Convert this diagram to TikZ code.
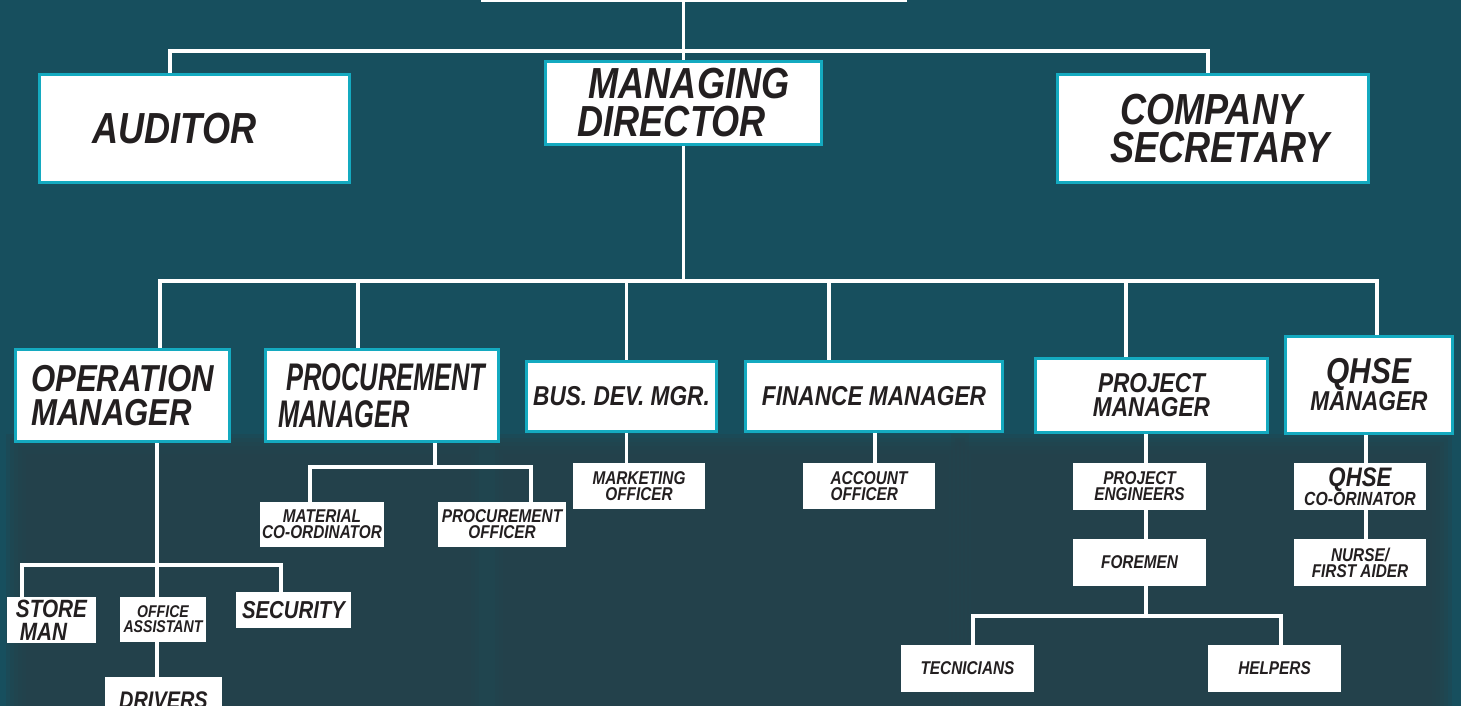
\documentclass[tikz,border=0pt]{standalone}
\usepackage{fontspec}
\newfontfamily\orgfont{Liberation Sans}[FakeStretch=0.83]
\newfontfamily\orgnarrow{Liberation Sans}[FakeStretch=0.66]
\definecolor{bgteal}{RGB}{23,79,94}
\definecolor{shadeteal}{RGB}{38,65,74}
\definecolor{rimcyan}{RGB}{20,170,192}
\definecolor{inkblack}{RGB}{35,31,32}
\pgfdeclarelayer{back}
\pgfdeclarelayer{links}
\pgfsetlayers{back,links,main}

\tikzset{
  mgr/.style={draw=rimcyan, line width=3pt, fill=white, text=inkblack, inner sep=0pt},
  staff/.style={fill=white, text=inkblack, inner sep=0pt, align=center},
  link/.style={draw=white, line width=3.3pt},
  fbig/.style={font=\orgfont\bfseries\itshape\fontsize{43.5}{38}\selectfont},
  fops/.style={font=\orgfont\bfseries\itshape\fontsize{37.5}{34}\selectfont},
  fproc/.style={font=\orgnarrow\bfseries\itshape\fontsize{38.5}{37}\selectfont},
  fmid/.style={font=\orgfont\bfseries\itshape\fontsize{27.3}{24}\selectfont},
  fsub/.style={font=\orgfont\bfseries\itshape\fontsize{25}{23}\selectfont},
  fsmall/.style={font=\orgfont\bfseries\itshape\fontsize{18.5}{16}\selectfont},
}

\begin{document}
\begin{tikzpicture}[x=1pt, y=-1pt]
\useasboundingbox (0,0) rectangle (1461,706);

% background and the darker bands
\begin{pgfonlayer}{back}
\fill[bgteal] (0,0) rectangle (1461,706);
\foreach \xa/\xb in {6/491, 483/969, 951/1452}
  \foreach \k in {0,...,5}
    \fill[shadeteal, opacity=0.32] (\xa+4*\k, 434+4*\k) rectangle (\xb-4*\k, 740);
\end{pgfonlayer}

% top rows
\node[staff, minimum width=426pt, minimum height=80pt] (chair) at (694,-38) {};
\node[mgr, fbig, align=left, minimum width=310pt, minimum height=108pt] (aud) at (194.5,128.5) {AUDITOR\hspace*{40pt}};
\node[mgr, fbig, align=left, minimum width=276pt, minimum height=83pt] (md) at (683.5,103) {\hspace*{11pt}MANAGING\\DIRECTOR};
\node[mgr, fbig, align=left, minimum width=311pt, minimum height=108pt] (sec) at (1213,128.5) {\hspace*{24pt}COMPANY\\\hspace*{14pt}SECRETARY};

% managers
\node[mgr, fops, align=left, minimum width=214pt, minimum height=92pt] (ops) at (122.5,395.5) {OPERATION\\MANAGER};
\node[mgr, fproc, align=left, minimum width=233pt, minimum height=92pt] (proc) at (382,395.5) {\hspace*{8pt}PROCUREMENT\\MANAGER};
\node[mgr, fmid, minimum width=190pt, minimum height=70pt] (bdm) at (621.5,396.5) {BUS. DEV. MGR.};
\node[mgr, fmid, minimum width=257pt, minimum height=70pt] (fin) at (874,396.5) {FINANCE MANAGER};
\node[mgr, fmid, align=center, minimum width=232pt, minimum height=74pt] (pm) at (1151.5,395.5) {PROJECT\\MANAGER};
\node[mgr, fmid, align=center, minimum width=167pt, minimum height=97pt] (qm) at (1369,384.5) {{\fontsize{36}{30}\selectfont QHSE}\\MANAGER};

% staff
\node[staff, fsmall, minimum width=124pt, minimum height=45pt] (mat) at (322,524.5) {MATERIAL\\CO-ORDINATOR};
\node[staff, fsmall, minimum width=128pt, minimum height=45pt] (po) at (502,524.5) {PROCUREMENT\\OFFICER};
\node[staff, fsmall, minimum width=132pt, minimum height=46pt] (mkt) at (639,486) {MARKETING\\OFFICER};
\node[staff, fsmall, align=left, minimum width=132pt, minimum height=46pt] (acc) at (869,486) {ACCOUNT\\OFFICER};
\node[staff, fsub, align=left, minimum width=89pt, minimum height=46pt] (store) at (51.5,620) {STORE\\\hspace*{4pt}MAN};
\node[staff, font=\orgfont\bfseries\itshape\fontsize{17}{15}\selectfont, minimum width=86pt, minimum height=45pt] (oa) at (163,619.5) {OFFICE\\ASSISTANT};
\node[staff, font=\orgfont\bfseries\itshape\fontsize{24.5}{23}\selectfont, minimum width=115pt, minimum height=36pt] (secu) at (293.5,610) {SECURITY};
\node[staff, font=\orgfont\bfseries\itshape\fontsize{24}{23}\selectfont, minimum width=117pt, minimum height=46pt] (drv) at (163.5,700) {DRIVERS};
\node[staff, fsmall, minimum width=133pt, minimum height=47pt] (pe) at (1139.5,486.5) {PROJECT\\ENGINEERS};
\node[staff, fsmall, minimum width=133pt, minimum height=47pt] (fore) at (1139.5,562.5) {FOREMEN};
\node[staff, fsmall, minimum width=133pt, minimum height=47pt] (tec) at (967.5,668.5) {TECNICIANS};
\node[staff, fsmall, minimum width=133pt, minimum height=47pt] (help) at (1274.5,668.5) {HELPERS};
\node[staff, fsmall, minimum width=132pt, minimum height=47pt] (qc) at (1360,486.5) {{\fontsize{26.8}{22}\selectfont QHSE}\\{\fontsize{19}{16}\selectfont CO-ORINATOR}};
\node[staff, fsmall, minimum width=132pt, minimum height=47pt] (nurse) at (1360,562.5) {NURSE/\\FIRST AIDER};

% connectors
\coordinate (topbus) at (683.5,51);
\coordinate (midbus) at (683.5,281);
\coordinate (opsbus) at (157,565);
\coordinate (procbus) at (435,467);
\coordinate (bdmcol) at (626.5,0);
\coordinate (pmcol) at (1146,616);
\coordinate (qcol) at (1366,0);
\begin{pgfonlayer}{links}
\draw[link] (chair.south -| md.north) -- (md.north);
\draw[link] ([xshift=-24.5pt]aud.north) |- (topbus) -| ([xshift=-5pt]sec.north);
\draw[link] (md.south) -- (midbus);
\draw[link] ([xshift=37.5pt]ops.north) |- (midbus) -| ([xshift=8pt]qm.north);
\foreach \n/\dx in {proc/-24, bdm/5, fin/-45, pm/-25.5}
  \draw[link] ([xshift=\dx pt]\n.north) -- ([xshift=\dx pt]\n.north |- midbus);
% operation
\draw[link] (ops.south -| opsbus) -- (oa.north -| opsbus);
\draw[link] ([xshift=-29.5pt]store.north) |- (opsbus) -| ([xshift=-12.5pt]secu.north);
\draw[link] (oa.south -| opsbus) -- (drv.north -| opsbus);
% procurement
\draw[link] (proc.south -| procbus) -- (procbus);
\draw[link] ([xshift=-12pt]mat.north) |- (procbus) -| ([xshift=29pt]po.north);
\draw[link] (bdm.south -| bdmcol) -- (mkt.north -| bdmcol);
\draw[link] ([xshift=1pt]fin.south) -- ([xshift=1pt]fin.south |- acc.north);
% project
\draw[link] (pm.south -| pmcol) -- (pe.north -| pmcol);
\draw[link] (pe.south -| pmcol) -- (fore.north -| pmcol);
\draw[link] (fore.south -| pmcol) -- (pmcol);
\draw[link] ([xshift=5.5pt]tec.north) |- (pmcol) -| ([xshift=6.5pt]help.north);
% qhse
\draw[link] (qm.south -| qcol) -- (qc.north -| qcol);
\draw[link] (qc.south -| qcol) -- (nurse.north -| qcol);
\end{pgfonlayer}
\end{tikzpicture}
\end{document}
